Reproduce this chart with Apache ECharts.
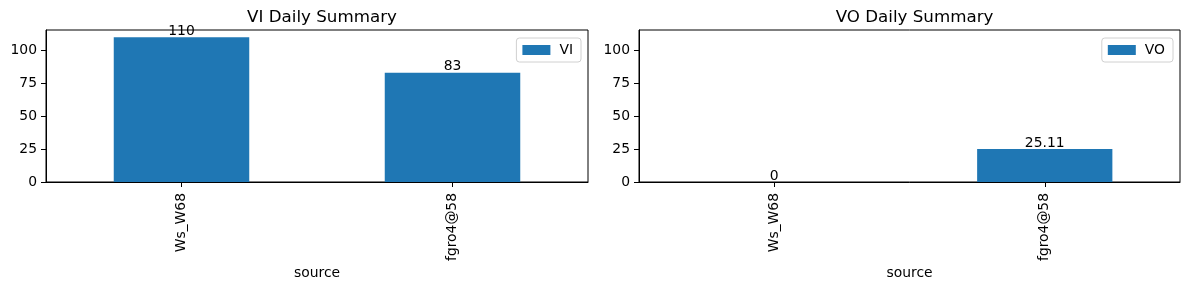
<!DOCTYPE html>
<html>
<head>
<meta charset="utf-8">
<script src="https://cdn.jsdelivr.net/npm/echarts@6/dist/echarts.min.js"></script>
<style>html,body{margin:0;padding:0;background:#fff}#c{width:1189px;height:290px}</style>
</head>
<body>
<div id="c"></div>
<script>
const categories = ['Ws_W68', 'fgro4@58'];
const viValues = [110, 83];
const voValues = [0, 25.11];
const yTicks = [0, 25, 50, 75, 100];
const titles = ['VI Daily Summary', 'VO Daily Summary'];
const seriesNames = ['VI', 'VO'];

const FONT = 'DejaVu Sans';
const blue = '#1f77b4';
const grids = [
  {left: 46, top: 30, width: 542, height: 152},
  {left: 639, top: 30, width: 541, height: 152}
];

function xAxis(i) {
  return {
    type: 'category', gridIndex: i, data: categories,
    name: 'source', nameLocation: 'middle', nameGap: 84, nameMoveOverlap: false,
    nameTextStyle: {fontFamily: FONT, fontSize: 13.9, color: '#000'},
    axisLine: {show: true, lineStyle: {color: '#000', width: 1}},
    axisTick: {show: true, alignWithLabel: true, length: 5, lineStyle: {color: '#000'}},
    axisLabel: {rotate: 90, margin: 11, fontFamily: FONT, fontSize: 13.9, color: '#000'},
    splitLine: {show: false}
  };
}
function yAxis(i) {
  return {
    type: 'value', gridIndex: i, min: 0, max: 115.5, interval: 25,
    axisLine: {show: true, lineStyle: {color: '#000', width: 1}},
    axisTick: {show: true, length: 5, lineStyle: {color: '#000'}},
    axisLabel: {margin: 9, fontFamily: FONT, fontSize: 13.9, color: '#000',
      showMaxLabel: false,
      formatter: v => yTicks.indexOf(v) >= 0 ? String(v) : ''},
    splitLine: {show: false}
  };
}
const chart = echarts.init(document.getElementById('c'), null, {renderer: 'canvas'});
chart.setOption({
  animation: false,
  backgroundColor: '#fff',
  title: titles.map((t, i) => ({
    text: t, left: grids[i].left + grids[i].width / 2, top: 4, textAlign: 'center',
    textStyle: {fontFamily: FONT, fontSize: 16.7, fontWeight: 'normal', color: '#000'}
  })),
  legend: seriesNames.map((n, i) => ({
    data: [n],
    right: 1189 - (grids[i].left + grids[i].width) + 7,
    top: 38,
    orient: 'vertical',
    icon: 'rect', itemWidth: 28, itemHeight: 10, itemGap: 5,
    padding: [5, 8, 5, 6],
    borderColor: '#d0d0d0', borderWidth: 1, borderRadius: 3,
    backgroundColor: '#fff',
    textStyle: {fontFamily: FONT, fontSize: 13.9, color: '#000', padding: [0, 0, 0, 4]},
    selectedMode: false
  })),
  grid: grids.map(g => Object.assign({show: true, borderColor: '#000', borderWidth: 1, backgroundColor: 'transparent'}, g)),
  xAxis: [xAxis(0), xAxis(1)],
  yAxis: [yAxis(0), yAxis(1)],
  series: [viValues, voValues].map((vals, i) => ({
    type: 'bar', name: seriesNames[i], xAxisIndex: i, yAxisIndex: i,
    data: vals, barWidth: '50%',
    itemStyle: {color: blue},
    label: {show: true, position: 'top', distance: -1, fontFamily: FONT, fontSize: 13.9, color: '#000',
      formatter: p => String(p.value)}
  }))
});
</script>
</body>
</html>
